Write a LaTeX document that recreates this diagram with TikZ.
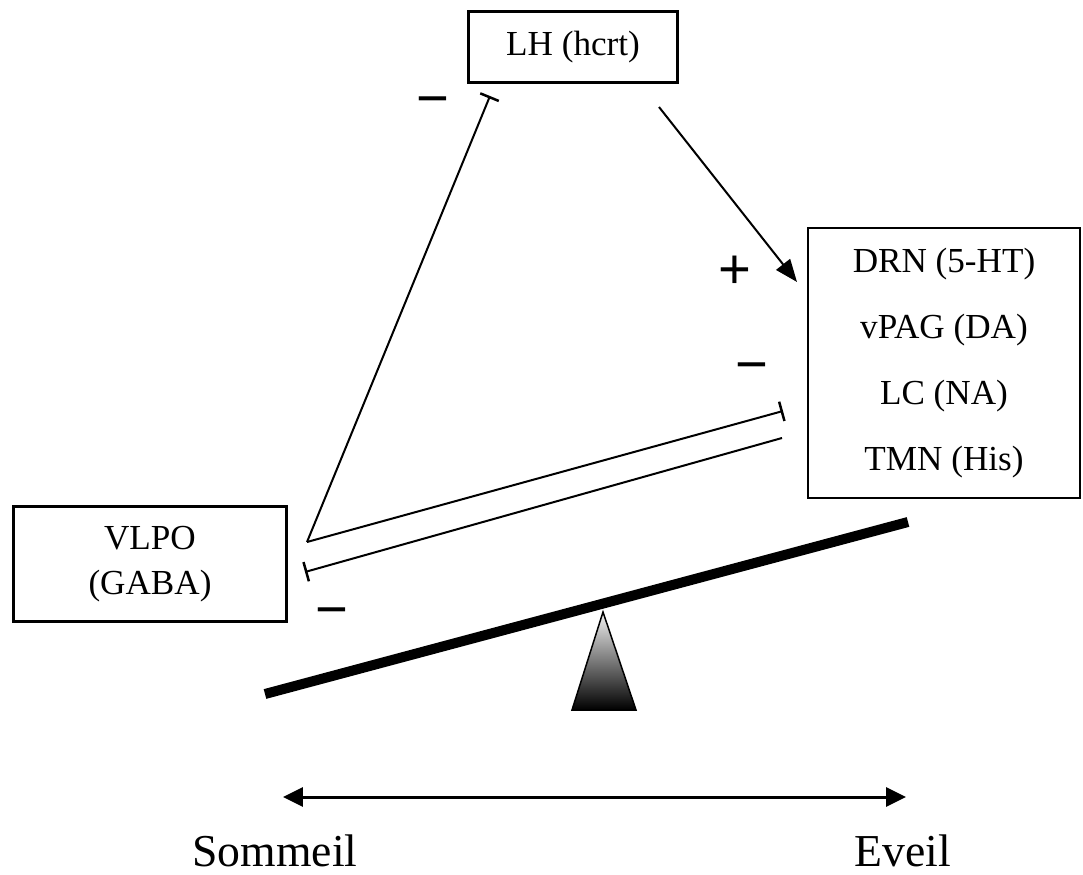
\documentclass[tikz,border=0pt]{standalone}
\usepackage{fontspec}
\setmainfont{Liberation Serif}
\newfontfamily\signfont{Liberation Sans}
\usetikzlibrary{arrows.meta}

\begin{document}
\begin{tikzpicture}[x=0.02cm,y=-0.02cm,
  box/.style={draw,line width=0.5mm,inner sep=0pt,align=center,font=\fontsize{20}{24}\selectfont},
  sign/.style={inner sep=0pt,font=\signfont\fontsize{32}{32}\selectfont},
  scale label/.style={inner sep=0pt,anchor=base,font=\fontsize{26}{26}\selectfont},
  inhib/.style={-{Bar[width=4mm,line width=0.5mm]},line width=0.4mm}]
\useasboundingbox (0,0) rectangle (1083,875);

\node[box,minimum width=4.18cm,minimum height=1.42cm] (lh) at (573,47) {LH (hcrt)};
\node[box,minimum width=5.44cm,minimum height=5.4cm,font=\fontsize{20}{37.5}\selectfont] (wake) at (944,363) {DRN (5-HT)\\vPAG (DA)\\LC (NA)\\TMN (His)};
\node[box,minimum width=5.46cm,minimum height=2.3cm,font=\fontsize{20}{25.5}\selectfont] (vlpo) at (150,564) {VLPO\\(GABA)};

% free ends of the connectors
\coordinate (vlpoOut) at (307,542);
\coordinate (vlpoIn) at (305,572);
\coordinate (lhIn) at (490,96);
\coordinate (lhOut) at (659,107);
\coordinate (wakeIn) at (783,411);
\coordinate (wakeOut) at (782,438);
\coordinate (wakeTop) at (797,282);

\draw[inhib] (vlpoOut) -- (lhIn);
\draw[inhib] (vlpoOut) -- (wakeIn);
\draw[inhib] (wakeOut) -- (vlpoIn);
\draw[-{Triangle[length=4.5mm,width=3.5mm]},line width=0.4mm] (lhOut) -- (wakeTop);

\node[sign] (m1) at (433,107) {−};
\node[sign] (p1) at (735,272) {+};
\node[sign] (m2) at (752,373) {−};
\node[sign] (m3) at (332,618) {−};

% balance
\coordinate (barL) at (265,694);
\coordinate (barR) at (908,522);
\draw[line width=2mm] (barL) -- (barR);
\shade[top color=gray!10,bottom color=black,draw=black,line width=0.3mm] (603,612) -- (636,710) -- (572,710) -- cycle;

\node[scale label] (sleep) at (275,866) {Sommeil};
\node[scale label] (awake) at (903,866) {Eveil};
\coordinate (sleepEnd) at (283,797);
\coordinate (awakeEnd) at (906,797);
\draw[{Triangle[length=4mm,width=3.8mm]}-{Triangle[length=4mm,width=3.8mm]},line width=0.6mm] (sleepEnd) -- (awakeEnd);

\end{tikzpicture}
\end{document}
